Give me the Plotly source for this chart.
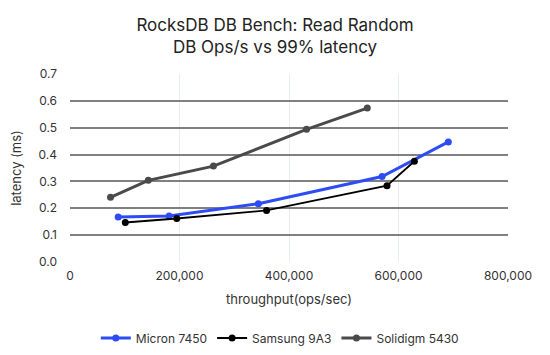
import plotly.graph_objects as go

micron_x = [88000, 181000, 344000, 570000, 691000]
micron_y = [0.168, 0.171, 0.217, 0.318, 0.447]
samsung_x = [101000, 195000, 359000, 579000, 629000]
samsung_y = [0.147, 0.162, 0.192, 0.284, 0.375]
solidigm_x = [74000, 143000, 262000, 432000, 543000]
solidigm_y = [0.241, 0.304, 0.357, 0.494, 0.573]

FONT = "Inter"

fig = go.Figure()
fig.add_trace(go.Scatter(x=micron_x, y=micron_y, name="Micron 7450", mode="lines+markers",
                         line=dict(color="#2d4cf5", width=3), marker=dict(size=7, color="#2d4cf5")))
fig.add_trace(go.Scatter(x=samsung_x, y=samsung_y, name="Samsung 9A3", mode="lines+markers",
                         line=dict(color="#000000", width=1.8), marker=dict(size=7, color="#000000")))
fig.add_trace(go.Scatter(x=solidigm_x, y=solidigm_y, name="Solidigm 5430", mode="lines+markers",
                         line=dict(color="#4a4a4a", width=3), marker=dict(size=7, color="#4a4a4a")))

fig.update_layout(
    width=550, height=355,
    margin=dict(l=62, r=50, t=66, b=101, autoexpand=False),
    paper_bgcolor="white", plot_bgcolor="white",
    font=dict(family=FONT, color="#333333", size=12),
    title=dict(text="RocksDB DB Bench: Read Random<br>DB Ops/s vs 99% latency",
               x=0.4855, xanchor="center", y=0.936, yanchor="top",
               font=dict(family=FONT, size=17, color="#222222")),
    xaxis=dict(range=[0, 800000], dtick=200000, tickformat=",d",
               showgrid=True, gridcolor="#e6ecf2", gridwidth=1,
               zeroline=False, showline=False, ticks="", automargin=False,
               ticklabelstandoff=5,
               title=dict(text="throughput(ops/sec)", font=dict(size=13), standoff=12),
               tickfont=dict(size=12)),
    yaxis=dict(range=[0, 0.7], dtick=0.1, tickformat=".1f",
               showgrid=True, gridcolor="#808080", gridwidth=1.5,
               zeroline=False, showline=False, ticks="", automargin=False,
               ticklabelstandoff=12,
               title=dict(text="latency (ms)", font=dict(size=13), standoff=13),
               tickfont=dict(size=12)),
    legend=dict(orientation="h", x=0.479, xanchor="center", y=-0.327, yanchor="top",
                font=dict(size=12), itemwidth=30),
    showlegend=True,
)

fig.write_html("out.html")
